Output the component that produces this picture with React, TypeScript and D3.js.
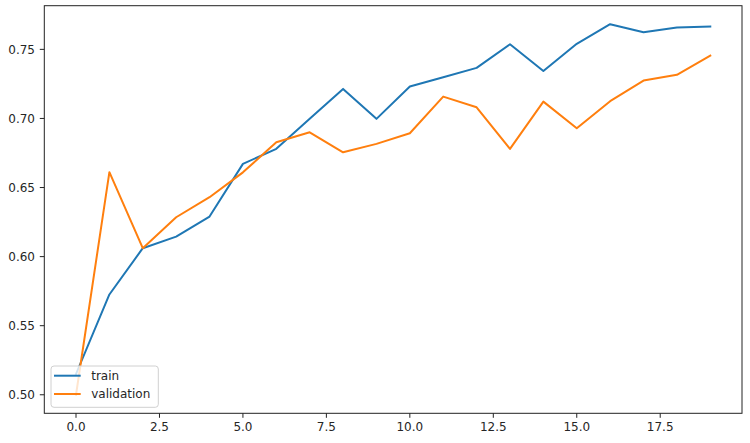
import React from "react";
import * as d3 from "d3";

const epochs: number[] = Array.from({ length: 20 }, (_, i) => i);
const trainValues: number[] = [
  0.515, 0.5726, 0.6061, 0.6145, 0.629, 0.6671, 0.678, 0.6997, 0.7214, 0.6997,
  0.7231, 0.7298, 0.7366, 0.7537, 0.7344, 0.754, 0.7682, 0.7624, 0.7658, 0.7665,
];
const validationValues: number[] = [
  0.5, 0.6611, 0.6061, 0.6285, 0.643, 0.661, 0.6828, 0.69, 0.6755, 0.6816,
  0.6893, 0.7158, 0.7081, 0.678, 0.7122, 0.6929, 0.7125, 0.7274, 0.7316, 0.7455,
];
const xTicks: number[] = [0, 2.5, 5, 7.5, 10, 12.5, 15, 17.5];
const yTicks: number[] = [0.5, 0.55, 0.6, 0.65, 0.7, 0.75];
const seriesNames: string[] = ["train", "validation"];
const seriesColors: string[] = ["#1f77b4", "#ff7f0e"];

const W = 750;
const H = 443;
const left = 44.3;
const right = 742;
const top = 5.7;
const bottom = 413.3;
const FONT = "'DejaVu Sans', sans-serif";
const FS = 12;

export default function App() {
  const all = [...trainValues, ...validationValues];
  const yMin = d3.min(all)!;
  const yMax = d3.max(all)!;
  const yPad = (yMax - yMin) * 0.05;
  const xPad = (epochs.length - 1) * 0.05;
  const x = d3
    .scaleLinear()
    .domain([-xPad, epochs.length - 1 + xPad])
    .range([left, right]);
  const y = d3
    .scaleLinear()
    .domain([yMin - yPad, yMax + yPad])
    .range([bottom, top]);
  const line = d3
    .line<number>()
    .x((_, i) => x(epochs[i]))
    .y((d) => y(d));
  const series = [trainValues, validationValues];

  return (
    <svg
      width={W}
      height={H}
      style={{ position: "absolute", left: 0, top: 0, background: "#fff" }}
      fontFamily={FONT}
    >
      <rect x={0} y={0} width={W} height={H} fill="#fff" />
      <defs>
        <clipPath id="plotclip">
          <rect x={left} y={top} width={right - left} height={bottom - top} />
        </clipPath>
      </defs>
      <g clipPath="url(#plotclip)">
        {series.map((s, k) => (
          <path
            key={k}
            d={line(s) || ""}
            fill="none"
            stroke={seriesColors[k]}
            strokeWidth={2}
            strokeLinejoin="round"
            strokeLinecap="square"
          />
        ))}
      </g>
      <rect
        x={left}
        y={top}
        width={right - left}
        height={bottom - top}
        fill="none"
        stroke="#222"
        strokeWidth={1}
      />
      {xTicks.map((t) => (
        <g key={"x" + t}>
          <line x1={x(t)} x2={x(t)} y1={bottom} y2={bottom + 4.5} stroke="#222" strokeWidth={1} />
          <text x={x(t)} y={431.3} textAnchor="middle" fontSize={FS} fill="#262626">
            {t.toFixed(1)}
          </text>
        </g>
      ))}
      {yTicks.map((t) => (
        <g key={"y" + t}>
          <line x1={left - 4.5} x2={left} y1={y(t)} y2={y(t)} stroke="#222" strokeWidth={1} />
          <text
            x={35}
            y={y(t)}
            dy="0.36em"
            textAnchor="end"
            fontSize={FS}
            fill="#262626"
          >
            {t.toFixed(2)}
          </text>
        </g>
      ))}
      <g>
        <rect
          x={51}
          y={366}
          width={107.3}
          height={41.3}
          rx={3}
          ry={3}
          fill="#fff"
          fillOpacity={0.8}
          stroke="#d0d0d0"
          strokeWidth={1}
        />
        {seriesNames.map((n, k) => {
          const cy = 375.7 + k * 18.3;
          return (
            <g key={n}>
              <line x1={54} x2={80.7} y1={cy} y2={cy} stroke={seriesColors[k]} strokeWidth={2} />
              <text x={91.2} y={cy} dy="0.36em" fontSize={FS} fill="#262626">
                {n}
              </text>
            </g>
          );
        })}
      </g>
    </svg>
  );
}
